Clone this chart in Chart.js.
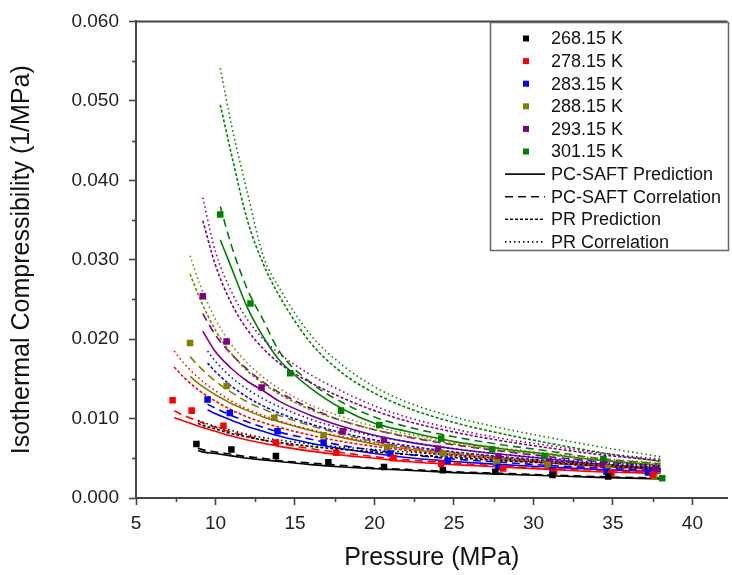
<!DOCTYPE html>
<html>
<head>
<meta charset="utf-8">
<script src="https://cdn.jsdelivr.net/npm/chart.js@4.4.1/dist/chart.umd.min.js"></script>
<style>
  html, body { margin: 0; padding: 0; background: #fff; }
  #wrap { width: 732px; height: 575px; }
</style>
</head>
<body>
<div id="wrap"><canvas id="chart" width="732" height="575"></canvas></div>
<script>
// temperatures (legend) and their colours
const temps = ['268.15 K', '278.15 K', '283.15 K', '288.15 K', '293.15 K', '301.15 K'];
const colors = ['#000000', '#ff0000', '#0000ff', '#808000', '#800080', '#008000'];

// model curves (legend)
const models = ['PC-SAFT Prediction', 'PC-SAFT Correlation', 'PR Prediction', 'PR Correlation'];
const dashes = [[], [8, 5], [3, 2], [1.5, 3]];

// experimental points, pressure (MPa) / compressibility (1/MPa)
const expP = [
  [8.8, 11.0, 13.8, 17.1, 20.6, 24.3, 27.6, 31.2, 34.7],
  [7.3, 8.5, 10.5, 13.8, 17.6, 21.2, 24.2, 28.1, 31.3, 34.9, 37.5],
  [9.5, 10.9, 13.9, 16.8, 21.0, 24.6, 27.8, 31.2, 34.6, 37.2],
  [8.4, 10.7, 13.7, 16.8, 20.8, 24.3, 27.7, 30.9, 34.7, 37.6],
  [9.2, 10.7, 12.9, 18.0, 20.6, 24.0, 27.8, 31.0, 34.4, 37.6],
  [10.3, 12.2, 14.7, 17.9, 20.3, 24.2, 27.4, 30.7, 34.4, 38.1]
];
const expK = [
  [0.0068, 0.0061, 0.0053, 0.0045, 0.0039, 0.0035, 0.0033, 0.0029, 0.0027],
  [0.0123, 0.0110, 0.0091, 0.0070, 0.0057, 0.0050, 0.0043, 0.0037, 0.0033, 0.0031, 0.0029],
  [0.0124, 0.0107, 0.0084, 0.0070, 0.0056, 0.0047, 0.0039, 0.0035, 0.0033, 0.0032],
  [0.0195, 0.0141, 0.0101, 0.0079, 0.0064, 0.0056, 0.0045, 0.0042, 0.0038, 0.0027],
  [0.0254, 0.0197, 0.0139, 0.0084, 0.0073, 0.0062, 0.0052, 0.0045, 0.0042, 0.0035],
  [0.0357, 0.0245, 0.0157, 0.0110, 0.0092, 0.0075, 0.0061, 0.0053, 0.0049, 0.0025]
];

// model curves: first value at curveStart, then at each grid pressure above it
const grid = [8, 9, 10, 11, 12, 13, 14, 16, 18, 20, 22, 25, 28, 31, 34, 38];
const curveStart = [8.9, 7.4, 9.5, 8.4, 9.2, 10.3];

const pcsaftPred = [
  [0.0060, 0.0059, 0.0056, 0.0053, 0.0050, 0.0048, 0.0046, 0.0042, 0.0039, 0.0037, 0.0035, 0.0032, 0.0030, 0.0028, 0.0026, 0.0024],
  [0.0101, 0.0097, 0.0090, 0.0084, 0.0078, 0.0073, 0.0069, 0.0065, 0.0059, 0.0054, 0.0050, 0.0046, 0.0042, 0.0039, 0.0036, 0.0033, 0.0031],
  [0.0111, 0.0106, 0.0098, 0.0090, 0.0084, 0.0078, 0.0069, 0.0062, 0.0056, 0.0051, 0.0046, 0.0042, 0.0039, 0.0036, 0.0033],
  [0.0153, 0.0143, 0.0130, 0.0119, 0.0110, 0.0102, 0.0096, 0.0085, 0.0076, 0.0068, 0.0062, 0.0055, 0.0049, 0.0044, 0.0040, 0.0036],
  [0.0210, 0.0184, 0.0163, 0.0147, 0.0135, 0.0122, 0.0104, 0.0090, 0.0079, 0.0071, 0.0062, 0.0055, 0.0049, 0.0043, 0.0037],
  [0.0325, 0.0290, 0.0240, 0.0203, 0.0174, 0.0138, 0.0112, 0.0094, 0.0084, 0.0071, 0.0062, 0.0055, 0.0048, 0.0041]
];
const pcsaftCorr = [
  [0.0063, 0.0062, 0.0058, 0.0055, 0.0052, 0.0050, 0.0047, 0.0044, 0.0041, 0.0038, 0.0036, 0.0033, 0.0031, 0.0029, 0.0027, 0.0025],
  [0.0110, 0.0104, 0.0096, 0.0089, 0.0083, 0.0078, 0.0073, 0.0069, 0.0062, 0.0057, 0.0052, 0.0048, 0.0044, 0.0040, 0.0037, 0.0035, 0.0032],
  [0.0118, 0.0113, 0.0104, 0.0096, 0.0089, 0.0083, 0.0074, 0.0066, 0.0060, 0.0055, 0.0049, 0.0045, 0.0041, 0.0038, 0.0034],
  [0.0178, 0.0165, 0.0147, 0.0133, 0.0121, 0.0112, 0.0104, 0.0091, 0.0080, 0.0071, 0.0064, 0.0057, 0.0051, 0.0046, 0.0042, 0.0037],
  [0.0232, 0.0205, 0.0181, 0.0162, 0.0146, 0.0133, 0.0113, 0.0097, 0.0086, 0.0077, 0.0067, 0.0059, 0.0052, 0.0046, 0.0040],
  [0.0367, 0.0318, 0.0263, 0.0224, 0.0185, 0.0145, 0.0120, 0.0102, 0.0090, 0.0077, 0.0067, 0.0059, 0.0050, 0.0043]
];
const prPred = [
  [0.0094, 0.0093, 0.0087, 0.0081, 0.0077, 0.0073, 0.0070, 0.0065, 0.0061, 0.0058, 0.0055, 0.0051, 0.0047, 0.0044, 0.0041, 0.0036],
  [0.0165, 0.0152, 0.0135, 0.0122, 0.0111, 0.0102, 0.0095, 0.0089, 0.0079, 0.0071, 0.0065, 0.0060, 0.0053, 0.0048, 0.0044, 0.0040, 0.0036],
  [0.0170, 0.0159, 0.0141, 0.0127, 0.0116, 0.0107, 0.0093, 0.0082, 0.0073, 0.0066, 0.0058, 0.0052, 0.0047, 0.0043, 0.0038],
  [0.0282, 0.0252, 0.0211, 0.0182, 0.0160, 0.0144, 0.0131, 0.0111, 0.0097, 0.0086, 0.0078, 0.0068, 0.0060, 0.0054, 0.0048, 0.0042],
  [0.0349, 0.0293, 0.0245, 0.0212, 0.0188, 0.0170, 0.0145, 0.0126, 0.0110, 0.0097, 0.0083, 0.0072, 0.0063, 0.0055, 0.0047],
  [0.0495, 0.0433, 0.0350, 0.0295, 0.0255, 0.0195, 0.0157, 0.0132, 0.0114, 0.0095, 0.0081, 0.0069, 0.0058, 0.0046]
];
const prCorr = [
  [0.0098, 0.0097, 0.0090, 0.0085, 0.0080, 0.0076, 0.0073, 0.0068, 0.0064, 0.0061, 0.0058, 0.0054, 0.0050, 0.0046, 0.0043, 0.0038],
  [0.0185, 0.0170, 0.0150, 0.0135, 0.0122, 0.0112, 0.0104, 0.0097, 0.0086, 0.0077, 0.0070, 0.0064, 0.0057, 0.0051, 0.0046, 0.0042, 0.0038],
  [0.0185, 0.0172, 0.0152, 0.0137, 0.0125, 0.0115, 0.0099, 0.0087, 0.0078, 0.0071, 0.0062, 0.0055, 0.0050, 0.0045, 0.0040],
  [0.0305, 0.0270, 0.0225, 0.0193, 0.0170, 0.0152, 0.0138, 0.0117, 0.0102, 0.0090, 0.0081, 0.0071, 0.0063, 0.0056, 0.0050, 0.0044],
  [0.0378, 0.0310, 0.0260, 0.0225, 0.0200, 0.0182, 0.0155, 0.0134, 0.0116, 0.0102, 0.0087, 0.0075, 0.0066, 0.0057, 0.0049],
  [0.0541, 0.0470, 0.0385, 0.0305, 0.0265, 0.0205, 0.0167, 0.0140, 0.0121, 0.0102, 0.0088, 0.0076, 0.0065, 0.0052]
];

const modelData = [pcsaftPred, pcsaftCorr, prPred, prCorr];
const font = '"Liberation Sans", Arial, sans-serif';

function curvePoints(i, vals) {
  const xs = [curveStart[i]].concat(grid.filter(p => p > curveStart[i]));
  return vals.map((v, j) => ({ x: xs[j], y: v }));
}

const datasets = [];
temps.forEach((t, i) => {
  datasets.push({
    label: t,
    data: expP[i].map((p, j) => ({ x: p, y: expK[i][j] })),
    pointStyle: 'rect',
    pointRadius: 4.6,
    backgroundColor: colors[i],
    borderColor: colors[i],
    borderWidth: 0,
    showLine: false,
    order: 0
  });
});
temps.forEach((t, i) => {
  modelData.forEach((m, k) => {
    datasets.push({
      label: t + ' ' + models[k],
      data: curvePoints(i, m[i]),
      showLine: true,
      pointRadius: 0,
      borderColor: colors[i],
      borderWidth: 1.6,
      borderDash: dashes[k],
      cubicInterpolationMode: 'monotone',
      fill: false,
      order: 1
    });
  });
});

// minor ticks, top frame line, legend box
const decor = {
  id: 'decor',
  afterDatasetsDraw(chart) {
    const ctx = chart.ctx;
    const a = chart.chartArea;
    const xs = chart.scales.x, ys = chart.scales.y;
    ctx.save();
    ctx.strokeStyle = '#444';
    ctx.lineWidth = 2;
    ctx.beginPath();
    ctx.moveTo(a.left, a.top);
    ctx.lineTo(a.right, a.top);
    ctx.stroke();
    ctx.lineWidth = 1.6;
    for (let v = 0.005; v < 0.06; v += 0.01) {
      const y = Math.round(ys.getPixelForValue(v)) + 0.5;
      ctx.beginPath(); ctx.moveTo(a.left, y); ctx.lineTo(a.left - 4, y); ctx.stroke();
    }
    for (let v = 7.5; v < xs.max; v += 5) {
      const x = Math.round(xs.getPixelForValue(v)) + 0.5;
      ctx.beginPath(); ctx.moveTo(x, a.bottom); ctx.lineTo(x, a.bottom + 4); ctx.stroke();
    }

    // legend
    ctx.fillStyle = '#fff';
    ctx.fillRect(491, 23, 237, 227);
    ctx.strokeStyle = '#666';
    ctx.lineWidth = 1.5;
    ctx.strokeRect(490.5, 22.5, 238, 228);
    ctx.font = '18px ' + font;
    ctx.textBaseline = 'middle';
    const rowH = 22.6;
    let y = 38.5;
    temps.forEach((t, i) => {
      ctx.fillStyle = colors[i];
      ctx.fillRect(523, y - 3, 6, 6);
      ctx.fillStyle = '#111';
      ctx.fillText(t, 551, y + 1);
      y += rowH;
    });
    models.forEach((m, k) => {
      ctx.strokeStyle = '#111';
      ctx.lineWidth = 1.6;
      ctx.setLineDash(dashes[k]);
      ctx.beginPath(); ctx.moveTo(505, y); ctx.lineTo(545, y); ctx.stroke();
      ctx.setLineDash([]);
      ctx.fillStyle = '#111';
      ctx.fillText(m, 551, y + 1);
      y += rowH;
    });
    ctx.restore();
  }
};

new Chart(document.getElementById('chart'), {
  type: 'scatter',
  data: { datasets: datasets },
  options: {
    responsive: false,
    animation: false,
    devicePixelRatio: 1,
    events: [],
    layout: { padding: { top: 17, right: 0, left: 0, bottom: 0 } },
    plugins: { legend: { display: false }, tooltip: { enabled: false } },
    scales: {
      x: {
        type: 'linear',
        min: 5,
        max: 42.2,
        afterFit(scale) { scale.height = 77; },
        border: { display: true, color: '#444', width: 2 },
        grid: { drawOnChartArea: false, drawTicks: true, tickLength: 7, tickColor: '#444', tickWidth: 1.6 },
        ticks: {
          stepSize: 5,
          includeBounds: false,
          autoSkip: false,
          maxRotation: 0,
          padding: 7,
          color: '#222',
          font: { family: font, size: 19 }
        },
        title: {
          display: true,
          text: 'Pressure (MPa)',
          color: '#111',
          font: { family: font, size: 25 },
          padding: { top: 0, bottom: 2 }
        }
      },
      y: {
        type: 'linear',
        min: 0,
        max: 0.06,
        afterFit(scale) { scale.width = 136; },
        border: { display: true, color: '#444', width: 2 },
        grid: { drawOnChartArea: false, drawTicks: true, tickLength: 7, tickColor: '#444', tickWidth: 1.6 },
        ticks: {
          stepSize: 0.01,
          padding: 10,
          color: '#222',
          font: { family: font, size: 19 },
          callback: v => v.toFixed(3)
        },
        title: {
          display: true,
          text: 'Isothermal Compressibility (1/MPa)',
          color: '#111',
          font: { family: font, size: 25 },
          padding: { top: 7, bottom: 0 }
        }
      }
    }
  },
  plugins: [decor]
});
</script>
</body>
</html>
